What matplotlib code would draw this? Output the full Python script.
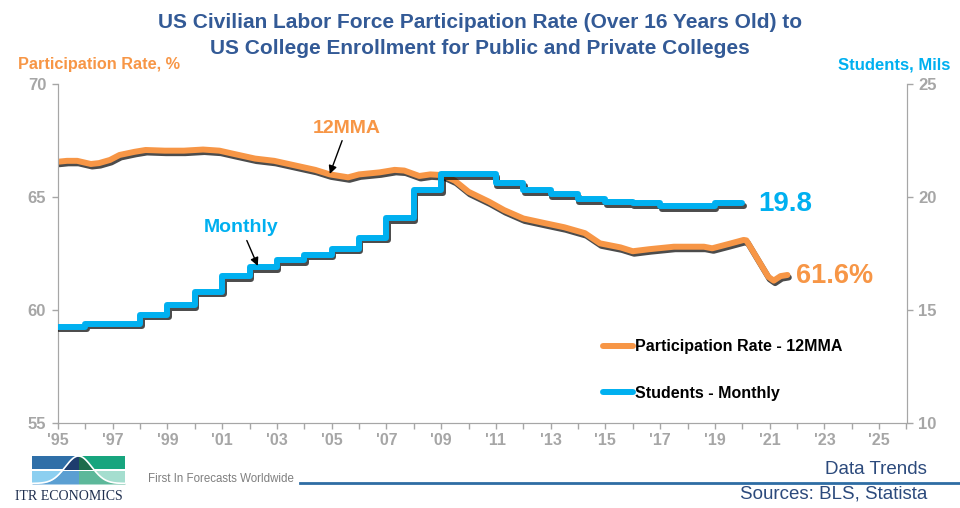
import numpy as np
import matplotlib.pyplot as plt
import matplotlib.patheffects as pe
from matplotlib.lines import Line2D
from matplotlib.patches import Rectangle

plt.rcParams['font.family'] = ['Liberation Sans', 'DejaVu Sans']

# participation rate, 12MMA (decimal year, %)
part_x = [1995.0, 1995.33, 1995.7, 1996.2, 1996.5, 1996.9, 1997.25, 1997.8, 1998.2, 1998.9,
          1999.6, 2000.3, 2000.9, 2001.45, 2002.2, 2002.9, 2003.65, 2004.4, 2004.93, 2005.6,
          2006.0, 2006.75, 2007.3, 2007.65, 2008.2, 2008.6, 2009.05, 2009.5, 2010.0, 2010.75,
          2011.3, 2012.0, 2012.8, 2013.5, 2014.25, 2014.8, 2015.3, 2015.55, 2016.0, 2016.6,
          2017.5, 2018.6, 2018.9, 2019.5, 2020.05, 2020.15, 2020.95, 2021.15, 2021.4, 2021.65]
part_y = [66.56, 66.6, 66.6, 66.46, 66.5, 66.64, 66.86, 67.0, 67.08, 67.05,
          67.05, 67.1, 67.05, 66.9, 66.7, 66.6, 66.4, 66.2, 66.0, 65.87,
          66.0, 66.09, 66.2, 66.17, 65.93, 66.0, 65.97, 65.72, 65.23, 64.79,
          64.42, 64.05, 63.84, 63.66, 63.4, 62.95, 62.83, 62.77, 62.6, 62.69,
          62.8, 62.8, 62.73, 62.92, 63.1, 63.08, 61.47, 61.3, 61.5, 61.55]

# college enrollment, millions (value from start of each year)
stud_x = [1995, 1996, 1997, 1998, 1999, 2000, 2001, 2002, 2003, 2004, 2005, 2006, 2007,
          2008, 2009, 2010, 2011, 2012, 2013, 2014, 2015, 2016, 2017, 2018, 2019, 2020]
stud_y = [14.25, 14.4, 14.4, 14.8, 15.2, 15.8, 16.5, 16.9, 17.2, 17.45, 17.7, 18.2, 19.07,
          20.3, 21.0, 21.0, 20.6, 20.3, 20.12, 19.9, 19.77, 19.72, 19.6, 19.6, 19.72, 19.72]

year_ticks = list(range(1995, 2026, 2))
year_labels = ["'" + str(y)[2:] for y in year_ticks]

orange = '#F79646'
blue = '#00B0F0'
gray = '#A6A6A6'
navy = '#335A96'

fig = plt.figure(figsize=(9.6, 5.08), dpi=100)
ax1 = fig.add_axes([58 / 960, 1 - 423 / 508, 848.5 / 960, 339 / 508])
ax2 = ax1.twinx()

shadow = [pe.SimpleLineShadow(offset=(1, -1.8), shadow_color='k', alpha=0.7), pe.Normal()]
ax1.plot(part_x, part_y, color=orange, lw=4.3, solid_capstyle='round', solid_joinstyle='round',
         path_effects=shadow, zorder=3)
ax2.plot(stud_x, stud_y, color=blue, lw=4.3, drawstyle='steps-post', solid_capstyle='round',
         solid_joinstyle='round', path_effects=shadow, zorder=3)

ax1.set_xlim(1995, 2026)
ax1.set_ylim(55, 70)
ax2.set_ylim(10, 25)
ax1.set_yticks([55, 60, 65, 70])
ax2.set_yticks([10, 15, 20, 25])
ax1.set_xticks(year_ticks)
ax1.set_xticklabels(year_labels)
ax1.set_xticks(range(1995, 2027), minor=True)

for ax in (ax1, ax2):
    for s in ax.spines.values():
        s.set_color(gray)
    ax.spines['top'].set_visible(False)
    ax.tick_params(colors=gray, length=4.5, width=1, labelsize=12, pad=4)
    ax.tick_params(which='minor', colors=gray, length=4.5, width=1)
    for t in ax.get_xticklabels() + ax.get_yticklabels():
        t.set_fontweight('bold')
ax1.tick_params(axis='x', labelsize=11.5, pad=3)

# annotations
ax1.annotate('12MMA', xy=(2004.93, 66.02), xytext=(2005.55, 68.05), color=orange, fontsize=14,
             fontweight='bold', ha='center', va='center',
             arrowprops=dict(arrowstyle='-|>', color='k', lw=1, shrinkA=1, shrinkB=0, mutation_scale=12))
ax2.annotate('Monthly', xy=(2002.3, 16.95), xytext=(2001.7, 18.63), color=blue, fontsize=14,
             fontweight='bold', ha='center', va='center',
             arrowprops=dict(arrowstyle='-|>', color='k', lw=1, shrinkA=1, shrinkB=0, mutation_scale=12))
ax2.text(2020.6, 19.7, '19.8', color=blue, fontsize=20, fontweight='bold', ha='left', va='center')
ax1.text(2021.97, 61.5, '61.6%', color=orange, fontsize=19.5, fontweight='bold', ha='left', va='center')

handles = [Line2D([], [], color=orange, lw=4.3, solid_capstyle='round'),
           Line2D([], [], color=blue, lw=4.3, solid_capstyle='round')]
fig.legend(handles, ['Participation Rate - 12MMA', 'Students - Monthly'], loc='center left',
           bbox_to_anchor=(603 / 960, 1 - 370 / 508), frameon=False, borderpad=0, borderaxespad=0,
           handlelength=1.9, handletextpad=0.1, labelspacing=1.95,
           prop=dict(weight='bold', size=11.5))

# titles and axis names
fig.text(0.5, 1 - 22 / 508, 'US Civilian Labor Force Participation Rate (Over 16 Years Old) to',
         ha='center', va='center', color=navy, fontsize=15, fontweight='bold')
fig.text(0.5, 1 - 48 / 508, 'US College Enrollment for Public and Private Colleges',
         ha='center', va='center', color=navy, fontsize=15, fontweight='bold')
fig.text(18 / 960, 1 - 65 / 508, 'Participation Rate, %', ha='left', va='center', color=orange,
         fontsize=11.7, fontweight='bold')
fig.text(950 / 960, 1 - 65 / 508, 'Students, Mils', ha='right', va='center', color=blue,
         fontsize=12, fontweight='bold')

# footer
fig.text(927 / 960, 1 - 470 / 508, 'Data Trends', ha='right', va='center', color='#2C4A7C', fontsize=13.5)
fig.text(927 / 960, 1 - 494 / 508, 'Sources: BLS, Statista', ha='right', va='center', color='#2C4A7C',
         fontsize=13.5)
fig.text(148 / 960, 1 - 479 / 508, 'First In Forecasts Worldwide', ha='left', va='center', color='#7F7F7F',
         fontsize=8.3)
fig.add_artist(Line2D([300 / 960, 1], [1 - 483 / 508] * 2, color='#2E6DA4', lw=2))
fig.text(15 / 960, 1 - 497 / 508, 'ITR ECONOMICS', ha='left', va='center', color='#1F2F4F', fontsize=10,
         family='Liberation Serif')

# logo
lg = fig.add_axes([32 / 960, 1 - 484 / 508, 93 / 960, 28 / 508])
lg.set_xlim(0, 1)
lg.set_ylim(0, 1)
lg.axis('off')
cx = np.linspace(0, 1, 200)
cy = 0.02 + 0.98 * np.exp(-((cx - 0.5) / 0.2) ** 2)
quads = [((0, 0.53), 0.495, '#2F6FA8', '#1E3D6E'), ((0.505, 0.53), 0.495, '#17A57E', '#1D6B4B'),
         ((0, 0), 0.495, '#8CCFF0', '#5B9FD2'), ((0.505, 0), 0.495, '#A5DECF', '#5DB89A')]
for (qx, qy), w, c_out, c_in in quads:
    r = Rectangle((qx, qy), w, 0.47, color=c_out, lw=0)
    lg.add_patch(r)
    f = lg.fill_between(cx, 0, cy, color=c_in, lw=0)
    f.set_clip_path(r)
lg.plot(cx, cy, color='white', lw=1.2)

fig.savefig('out.png', dpi=100)
